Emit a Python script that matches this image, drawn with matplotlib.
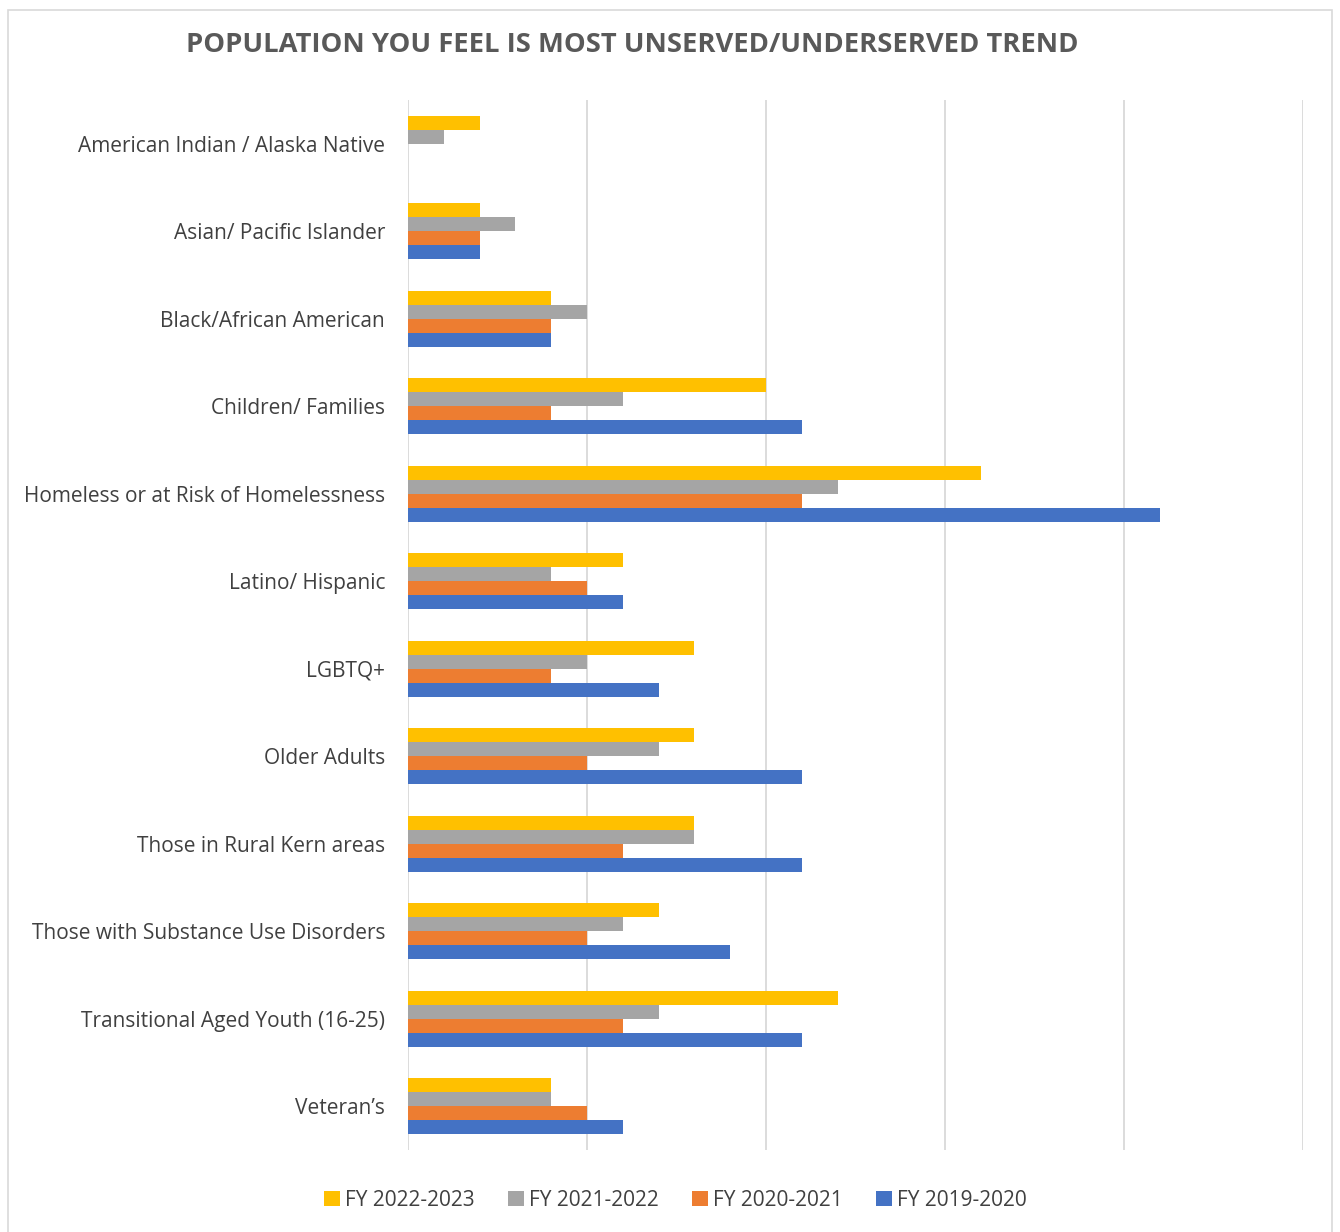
import matplotlib
matplotlib.use("Agg")
import matplotlib.pyplot as plt
import numpy as np
from matplotlib.patches import Rectangle

plt.rcParams["font.family"] = ["Open Sans", "DejaVu Sans"]

categories = [
    "American Indian / Alaska Native",
    "Asian/ Pacific Islander",
    "Black/African American",
    "Children/ Families",
    "Homeless or at Risk of Homelessness",
    "Latino/ Hispanic",
    "LGBTQ+",
    "Older Adults",
    "Those in Rural Kern areas",
    "Those with Substance Use Disorders",
    "Transitional Aged Youth (16-25)",
    "Veteran\u2019s",
]
series_names = ["FY 2022-2023", "FY 2021-2022", "FY 2020-2021", "FY 2019-2020"]
fy_2022_2023 = [2, 2, 4, 10, 16, 6, 8, 8, 8, 7, 12, 4]
fy_2021_2022 = [1, 3, 5, 6, 12, 4, 5, 7, 8, 6, 7, 4]
fy_2020_2021 = [0, 2, 4, 4, 11, 5, 4, 5, 6, 5, 6, 5]
fy_2019_2020 = [0, 2, 4, 11, 21, 6, 7, 11, 11, 9, 11, 6]
colors = ["#FFC000", "#A5A5A5", "#ED7D31", "#4472C4"]

fig = plt.figure(figsize=(13.4, 12.32), dpi=100)
# light frame around the whole chart area
fig.patches.append(Rectangle((8 / 1340, -0.01), 1324 / 1340, 1 - 10 / 1232 + 0.01,
                             transform=fig.transFigure, fill=False,
                             edgecolor="#d9d9d9", linewidth=1.2))

ax = fig.add_axes([408 / 1340, 1 - 1150 / 1232, 895 / 1340, 1050 / 1232])

y = np.arange(len(categories))
h = 0.16
all_series = [fy_2022_2023, fy_2021_2022, fy_2020_2021, fy_2019_2020]
for i, (vals, name, c) in enumerate(zip(all_series, series_names, colors)):
    ax.barh(y + (i - 1.5) * h, vals, height=h, color=c, label=name, zorder=3)

ax.set_xlim(0, 25)
ax.set_ylim(len(categories) - 0.5, -0.5)
ax.set_xticks(np.arange(0, 26, 5))
ax.set_xticklabels([])
ax.tick_params(axis="x", length=0)
ax.tick_params(axis="y", length=0, pad=16.5, labelsize=15, labelcolor="#404040")
ax.set_yticks(y)
ax.set_yticklabels(categories)
ax.grid(axis="x", color="#d9d9d9", linewidth=1.3, zorder=0)
for s in ax.spines.values():
    s.set_visible(False)

fig.text(0.472, 1 - 45 / 1232, "POPULATION YOU FEEL IS MOST UNSERVED/UNDERSERVED TREND",
         ha="center", va="center", fontsize=19.7, fontweight="bold", color="#595959")

fig.legend(loc="center", bbox_to_anchor=(0.504, 1 - 1200 / 1232), ncol=4, frameon=False,
           fontsize=15, labelcolor="#404040", handlelength=0.75, handleheight=0.75,
           handletextpad=0.25, columnspacing=1.6)

fig.savefig("out.png", dpi=100, facecolor="white")
